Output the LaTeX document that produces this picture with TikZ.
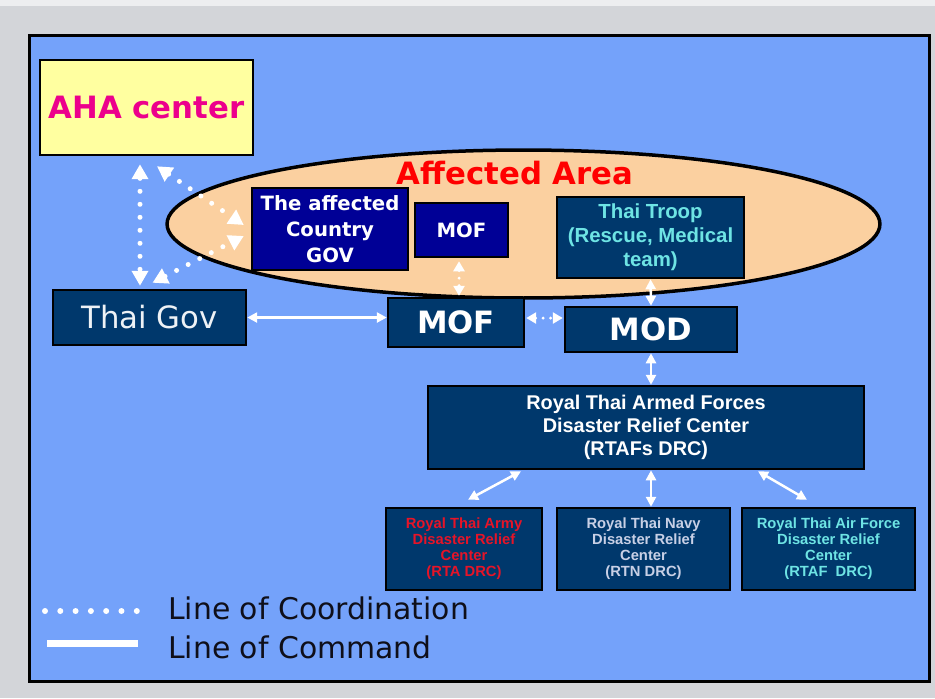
\documentclass[tikz,border=0pt]{standalone}
\usepackage{fontspec}
\setmainfont{DejaVu Sans}
\newfontfamily\arialfont{Liberation Sans}
\usepackage{tikz}
\usetikzlibrary{arrows.meta,calc,shapes.geometric}

\definecolor{panelblue}{RGB}{116,162,250}
\definecolor{boxblue}{RGB}{0,56,108}
\definecolor{navybox}{RGB}{0,0,150}
\definecolor{peach}{RGB}{251,208,160}
\definecolor{ahayellow}{RGB}{255,255,160}
\definecolor{troopcyan}{RGB}{110,228,228}
\definecolor{navytext}{RGB}{200,208,230}
\definecolor{armyred}{RGB}{230,20,40}
\definecolor{frame}{RGB}{211,213,217}

\tikzset{
  box/.style={draw=black, line width=0.05cm, fill=boxblue, inner sep=0pt, align=center},
  bigbold/.style={font=\fontsize{17.5}{21}\selectfont\bfseries},
  smallbold/.style={font=\fontsize{11.2}{14.7}\selectfont\bfseries},
  armyfont/.style={font=\arialfont\fontsize{8.4}{9.1}\selectfont\bfseries},
  coord/.style={white, line width=0.1cm, line cap=round, dash pattern=on 0pt off 0.26cm,
    {Triangle[length=0.3cm,width=0.32cm]}-{Triangle[length=0.3cm,width=0.32cm]}},
  smallcoord/.style={white, line width=0.065cm, line cap=round, dash pattern=on 0pt off 0.15cm,
    {Triangle[length=0.2cm,width=0.22cm]}-{Triangle[length=0.2cm,width=0.22cm]}},
  command/.style={white, line width=0.05cm,
    {Triangle[length=0.2cm,width=0.2cm]}-{Triangle[length=0.2cm,width=0.2cm]}}
}

\begin{document}
\begin{tikzpicture}[x=0.02cm,y=-0.02cm]

\useasboundingbox (0,0) rectangle (935,698);
\fill [frame] (0,0) rectangle (935,698);
\fill [frame!40!white] (0,0) rectangle (935,6);
\draw [line width=0.06cm, fill=panelblue] (29,35) rectangle (929,681);

% affected area
\node [ellipse, draw=black, line width=0.07cm, fill=peach, minimum width=14.26cm, minimum height=2.96cm] (area) at (523.5,224) {};
\node [bigbold, text=red] (areatitle) at (515,173) {Affected Area};

% top left
\node [box, fill=ahayellow, minimum width=4.26cm, minimum height=1.9cm, bigbold, text=magenta] (aha) at (146.5,107.5) {AHA center};
\node [box, minimum width=3.86cm, minimum height=1.1cm, font=\fontsize{17.5}{21}\selectfont, text={rgb,255:red,238;green,242;blue,246}] (tgov) at (149.5,317.5) {Thai Gov};

% inside the ellipse
\node [box, fill=navybox, minimum width=3.12cm, minimum height=1.64cm, smallbold, text=white] (gov) at (330,229) {The affected\\Country\\GOV};
\node [box, fill=navybox, minimum width=1.86cm, minimum height=1.08cm, smallbold, text=white] (mofa) at (461.5,230) {MOF};
\node [box, minimum width=3.74cm, minimum height=1.62cm, font=\arialfont\fontsize{11.6}{13.6}\selectfont\bfseries, text=troopcyan] (troop) at (650.5,237.5) {Thai Troop\\(Rescue, Medical\\team)};

% ministries
\node [box, minimum width=2.72cm, minimum height=0.98cm, bigbold, text=white] (mof) at (456,322.5) {MOF};
\node [box, minimum width=3.44cm, minimum height=0.9cm, bigbold, text=white] (mod) at (651,329.5) {MOD};

% relief centers
\node [box, minimum width=8.72cm, minimum height=1.66cm, font=\arialfont\fontsize{11.3}{13}\selectfont\bfseries, text=white] (rtafs) at (646,427.5) {Royal Thai Armed Forces\\Disaster Relief Center\\(RTAFs DRC)};
\node [box, minimum width=3.12cm, minimum height=1.64cm, armyfont, text=armyred] (rta) at (464,549) {Royal Thai Army\\Disaster Relief\\Center\\(RTA DRC)};
\node [box, minimum width=3.46cm, minimum height=1.64cm, armyfont, text=navytext] (rtn) at (643.5,549) {Royal Thai Navy\\Disaster Relief\\Center\\(RTN DRC)};
\node [box, minimum width=3.46cm, minimum height=1.64cm, armyfont, text=troopcyan] (rtaf) at (828.5,549) {Royal Thai Air Force\\Disaster Relief\\Center\\(RTAF~~DRC)};

% lines of coordination
\draw [coord] ($(aha.south)+(-6.5,8)$) -- ($(tgov.north)+(-9.5,-3)$);
\draw [coord] ($(aha.south)+(10.5,10)$) -- ($(gov.west)+(-7,-4)$);
\draw [coord] ($(tgov.north)+(3,-6)$) -- ($(gov.west)+(-7,7)$);
\draw [smallcoord] ($(mofa.south)+(-2.5,3)$) -- ($(mof.north)+(3,-1)$);
\draw [smallcoord] ($(mof.east)+(1,-4.5)$) -- ($(mod.west)+(-1,-11.5)$);

% lines of command
\draw [command] (tgov.east) -- (tgov.east -| mof.west);
\draw [command] (troop.south) -- (mod.north);
\draw [command] (mod.south) -- (mod.south |- rtafs.north);
\draw [command] ($(rtafs.south)+(-125,1)$) -- ($(rta.north)+(4,-7)$);
\draw [command] (mod.south |- rtafs.south) -- (mod.south |- rtn.north);
\draw [command] ($(rtafs.south)+(112,1)$) -- ($(rtaf.north)+(-21.5,-7)$);

% legend
\coordinate (c1) at (45,611);
\coordinate (c2) at (137,611);
\coordinate (c3) at (47,643.5);
\coordinate (c4) at (138,643.5);
\draw [white, line width=0.12cm, line cap=round, dash pattern=on 0pt off 0.306cm] (c1) -- (c2);
\draw [white, line width=0.14cm] (c3) -- (c4);
\node [anchor=base west, font=\fontsize{17}{20}\selectfont, text={rgb,255:red,15;green,15;blue,25}] (coordleg) at (162,619) {Line of Coordination};
\node [anchor=base west, font=\fontsize{17}{20}\selectfont, text={rgb,255:red,15;green,15;blue,25}] (cmdleg) at (162,658) {Line of Command};

\end{tikzpicture}
\end{document}
